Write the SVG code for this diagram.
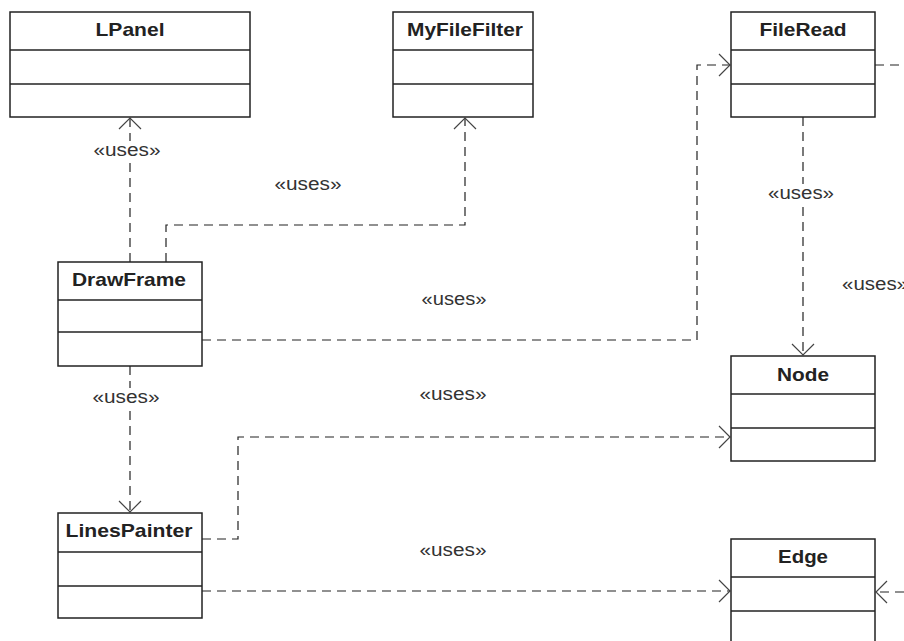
<svg xmlns="http://www.w3.org/2000/svg" width="904" height="641" viewBox="0 0 904 641">
<style>
.box{fill:#fff;stroke:#222;stroke-width:1.5}
.sep{stroke:#222;stroke-width:1.5}
.title{font-family:"Liberation Sans",Arial,sans-serif;font-weight:bold;font-size:19px;fill:#222;text-anchor:middle}
.lbl{font-family:"Liberation Sans",Arial,sans-serif;font-size:18px;fill:#333;text-anchor:middle}
.dep{fill:none;stroke:#222;stroke-width:1.2;stroke-dasharray:9,6}
.head{fill:none;stroke:#444;stroke-width:1.2}
.bg{fill:#fff}
</style>
<rect width="904" height="641" fill="#fff"/>
<g id="connectors">
<path class="dep" d="M130,262 V118"/>
<path class="head" d="M119,129 L130,118 L141,129"/>
<path class="dep" d="M166,262 V225 H465 V118"/>
<path class="head" d="M454,129 L465,118 L476,129"/>
<path class="dep" d="M202,340 H697 V65 H730"/>
<path class="head" d="M719,54 L730,65 L719,76"/>
<path class="dep" d="M130,366 V512"/>
<path class="head" d="M119,501 L130,512 L141,501"/>
<path class="dep" d="M803,117 V355"/>
<path class="head" d="M792,344 L803,355 L814,344"/>
<path class="dep" d="M202,539 H238 V437 H730"/>
<path class="head" d="M719,426 L730,437 L719,448"/>
<path class="dep" d="M202,591 H730"/>
<path class="head" d="M719,580 L730,591 L719,602"/>
<path class="dep" d="M875,65 H904"/>
<path class="dep" d="M904,592 H876"/>
<path class="head" d="M887,581 L876,592 L887,603"/>
<rect class="bg" x="94" y="141" width="67" height="19"/>
<rect class="bg" x="93" y="388" width="67" height="19"/>
<rect class="bg" x="768" y="184" width="67" height="19"/>
<text class="lbl" x="127" y="156" textLength="67" lengthAdjust="spacingAndGlyphs">«uses»</text>
<text class="lbl" x="308" y="190" textLength="67" lengthAdjust="spacingAndGlyphs">«uses»</text>
<text class="lbl" x="454" y="305" textLength="65" lengthAdjust="spacingAndGlyphs">«uses»</text>
<text class="lbl" x="126" y="403" textLength="67" lengthAdjust="spacingAndGlyphs">«uses»</text>
<text class="lbl" x="801" y="199" textLength="66" lengthAdjust="spacingAndGlyphs">«uses»</text>
<text class="lbl" x="453" y="400" textLength="67" lengthAdjust="spacingAndGlyphs">«uses»</text>
<text class="lbl" x="453" y="556" textLength="67" lengthAdjust="spacingAndGlyphs">«uses»</text>
<text class="lbl" x="875" y="290" textLength="66" lengthAdjust="spacingAndGlyphs">«uses»</text>
</g>
<g id="LPanel">
<rect class="box" x="10" y="12" width="240" height="105"/>
<line class="sep" x1="10" y1="50" x2="250" y2="50"/>
<line class="sep" x1="10" y1="84" x2="250" y2="84"/>
<text class="title" x="130" y="36" textLength="69" lengthAdjust="spacingAndGlyphs">LPanel</text>
</g>
<g id="MyFileFilter">
<rect class="box" x="393" y="12" width="140" height="105"/>
<line class="sep" x1="393" y1="50" x2="533" y2="50"/>
<line class="sep" x1="393" y1="84" x2="533" y2="84"/>
<text class="title" x="465" y="36" textLength="116" lengthAdjust="spacingAndGlyphs">MyFileFilter</text>
</g>
<g id="FileRead">
<rect class="box" x="731" y="12" width="144" height="105"/>
<line class="sep" x1="731" y1="50" x2="875" y2="50"/>
<line class="sep" x1="731" y1="84" x2="875" y2="84"/>
<text class="title" x="803" y="36" textLength="87" lengthAdjust="spacingAndGlyphs">FileRead</text>
</g>
<g id="DrawFrame">
<rect class="box" x="58" y="262" width="144" height="104"/>
<line class="sep" x1="58" y1="300" x2="202" y2="300"/>
<line class="sep" x1="58" y1="332" x2="202" y2="332"/>
<text class="title" x="129" y="286" textLength="114" lengthAdjust="spacingAndGlyphs">DrawFrame</text>
</g>
<g id="Node">
<rect class="box" x="731" y="356" width="144" height="105"/>
<line class="sep" x1="731" y1="394" x2="875" y2="394"/>
<line class="sep" x1="731" y1="428" x2="875" y2="428"/>
<text class="title" x="803" y="381" textLength="52" lengthAdjust="spacingAndGlyphs">Node</text>
</g>
<g id="LinesPainter">
<rect class="box" x="58" y="513" width="144" height="105"/>
<line class="sep" x1="58" y1="552" x2="202" y2="552"/>
<line class="sep" x1="58" y1="586" x2="202" y2="586"/>
<text class="title" x="129" y="537" textLength="127" lengthAdjust="spacingAndGlyphs">LinesPainter</text>
</g>
<g id="Edge">
<rect class="box" x="731" y="539" width="144" height="110"/>
<line class="sep" x1="731" y1="577" x2="875" y2="577"/>
<line class="sep" x1="731" y1="611" x2="875" y2="611"/>
<text class="title" x="803" y="563" textLength="50" lengthAdjust="spacingAndGlyphs">Edge</text>
</g>
</svg>
